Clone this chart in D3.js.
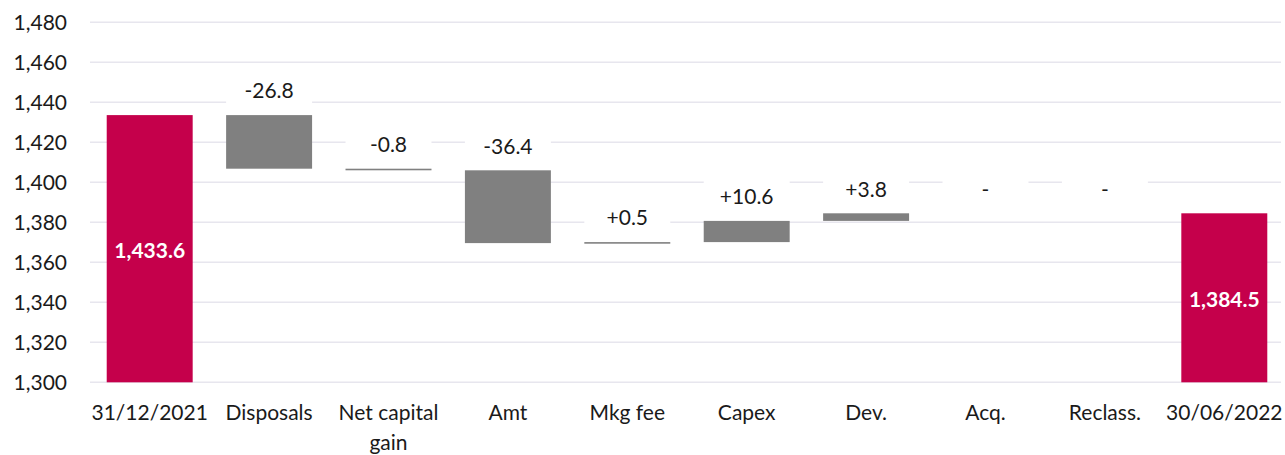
<!DOCTYPE html>
<html>
<head>
<meta charset="utf-8">
<script src="https://cdn.jsdelivr.net/npm/d3@7"></script>
<style>
  html, body { margin: 0; padding: 0; background: #fff; }
  svg { display: block; font-family: Lato, "Open Sans", sans-serif; }
</style>
</head>
<body>
<svg id="chart" width="1285" height="455"></svg>
<script>
// Portfolio value bridge, 31/12/2021 to 30/06/2022
const categories = ["31/12/2021", "Disposals", "Net capital gain", "Amt", "Mkg fee", "Capex", "Dev.", "Acq.", "Reclass.", "30/06/2022"];
const openingValue = 1433.6;
const closingValue = 1384.5;
const movements = [-26.8, -0.8, -36.4, 0.5, 10.6, 3.8, 0, 0];
const yTicks = [1300, 1320, 1340, 1360, 1380, 1400, 1420, 1440, 1460, 1480];

const totalColor = "#C5004B";
const stepColor = "#808080";
const gridColor = "#E7E6EE";
const fontSize = 21;

// Plain hyphen for negative numbers
const locale = d3.formatLocale({ decimal: ".", thousands: ",", grouping: [3], currency: ["", ""], minus: "-" });

// Build waterfall rows: opening total, steps, closing total
const rows = [];
rows.push({ cat: categories[0], type: "total", lo: 1300, hi: openingValue, value: openingValue });
let running = openingValue;
movements.forEach((m, i) => {
  const start = running;
  running = +(running + m).toFixed(1);
  rows.push({ cat: categories[i + 1], type: "step", lo: Math.min(start, running), hi: Math.max(start, running), value: m });
});
rows.push({ cat: categories[categories.length - 1], type: "total", lo: 1300, hi: closingValue, value: closingValue });

const svg = d3.select("#chart");
const x = d3.scaleBand().domain(categories).range([90, 1284]).paddingInner(0.28).paddingOuter(0.14);
const y = d3.scaleLinear().domain([1300, 1480]).range([382.3, 22.3]);

// Horizontal gridlines
svg.append("g").selectAll("line").data(yTicks).join("line")
  .attr("x1", 90).attr("x2", 1281)
  .attr("y1", d => y(d)).attr("y2", d => y(d))
  .attr("stroke", gridColor).attr("stroke-width", 1.5);

// Y axis tick labels
svg.append("g").selectAll("text").data(yTicks).join("text")
  .attr("x", 67).attr("y", d => y(d))
  .attr("dy", "0.35em")
  .attr("text-anchor", "end")
  .attr("font-size", fontSize)
  .attr("fill", "#1a1a1a")
  .text(locale.format(","));

// Bars (zero movements draw nothing)
svg.append("g").selectAll("rect").data(rows.filter(d => d.value !== 0)).join("rect")
  .attr("x", d => x(d.cat))
  .attr("width", x.bandwidth())
  .attr("y", d => y(d.hi))
  .attr("height", d => Math.max(1.6, y(d.lo) - y(d.hi)))
  .attr("fill", d => d.type === "total" ? totalColor : stepColor);

// Step labels on white boxes above each step
const fmt1 = locale.format(".1f");
const fmtStep = v => v > 0 ? "+" + fmt1(v) : v < 0 ? fmt1(v) : "-";
const steps = rows.filter(d => d.type === "step");
const stepLabels = svg.append("g").selectAll("g").data(steps).join("g");
stepLabels.append("rect")
  .attr("x", d => x(d.cat))
  .attr("width", x.bandwidth())
  .attr("y", d => y(d.hi) - 40)
  .attr("height", 32)
  .attr("fill", "#fff");
stepLabels.append("text")
  .attr("x", d => x(d.cat) + x.bandwidth() / 2)
  .attr("y", d => y(d.hi) - 24)
  .attr("dy", "0.35em")
  .attr("text-anchor", "middle")
  .attr("font-size", fontSize)
  .attr("fill", "#1a1a1a")
  .text(d => fmtStep(d.value));

// Total labels inside the bars
svg.append("g").selectAll("text").data(rows.filter(d => d.type === "total")).join("text")
  .attr("x", d => x(d.cat) + x.bandwidth() / 2)
  .attr("y", d => (y(d.lo) + y(d.hi)) / 2 + 2)
  .attr("dy", "0.35em")
  .attr("text-anchor", "middle")
  .attr("font-size", fontSize)
  .attr("font-weight", "bold")
  .attr("fill", "#fff")
  .text(d => locale.format(",.1f")(d.value));

// Category labels, wrapped where too wide
const catWrap = { "Net capital gain": ["Net capital", "gain"] };
const catLabels = svg.append("g").selectAll("text").data(categories).join("text")
  .attr("x", d => x(d) + x.bandwidth() / 2)
  .attr("y", 413)
  .attr("text-anchor", "middle")
  .attr("font-size", fontSize)
  .attr("fill", "#1a1a1a");
catLabels.each(function(d) {
  const lines = catWrap[d] || [d];
  const t = d3.select(this);
  lines.forEach((ln, i) => {
    t.append("tspan")
      .attr("x", x(d) + x.bandwidth() / 2)
      .attr("dy", i === 0 ? "0.35em" : 30)
      .text(ln);
  });
});
</script>
</body>
</html>
